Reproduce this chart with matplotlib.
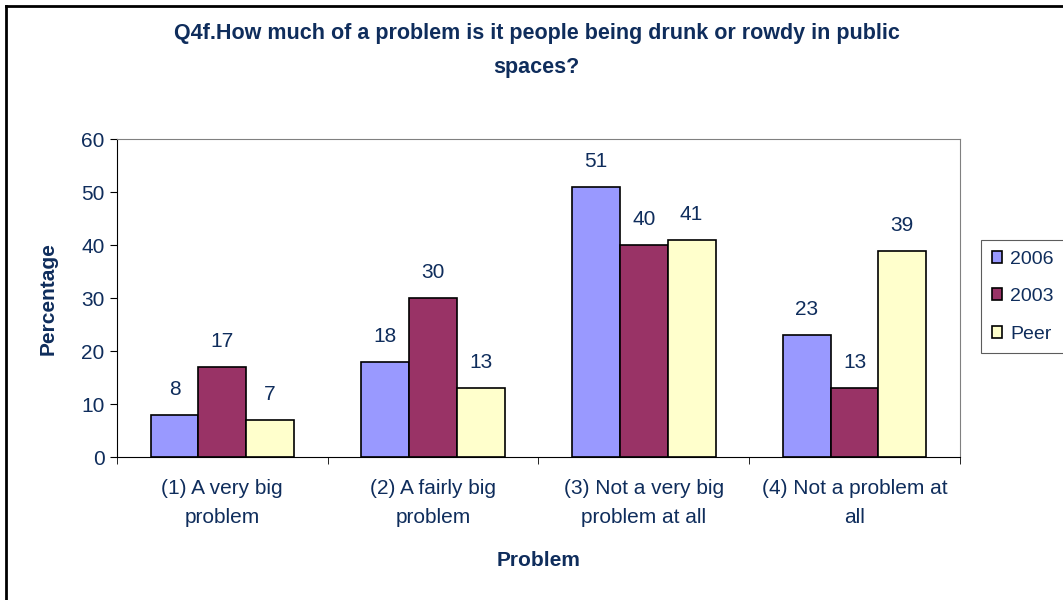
import matplotlib.pyplot as plt
import numpy as np
from matplotlib.lines import Line2D

categories = ["(1) A very big\nproblem", "(2) A fairly big\nproblem",
              "(3) Not a very big\nproblem at all", "(4) Not a problem at\nall"]
series_names = ["2006", "2003", "Peer"]
values_2006 = [8, 18, 51, 23]
values_2003 = [17, 30, 40, 13]
values_peer = [7, 13, 41, 39]

colors = ["#9999FF", "#993366", "#FFFFCC"]
navy = "#0F2D5C"
fs = 15
plt.rcParams['font.family'] = ['Liberation Sans', 'DejaVu Sans']

fig = plt.figure(figsize=(10.63, 6), dpi=100)
ax = fig.add_axes([0.110, 0.238, 0.793, 0.530])

x = np.arange(len(categories))
w = 0.227
for i, (name, vals) in enumerate(zip(series_names, [values_2006, values_2003, values_peer])):
    pos = x + (i - 1) * w
    ax.bar(pos, vals, w, color=colors[i], edgecolor="black", linewidth=1.2, label=name)
    for p, v in zip(pos, vals):
        ax.text(p, v + 3, str(v), ha="center", va="bottom", fontsize=fs, color=navy)

ax.set_xlim(-0.5, len(categories) - 0.5)
ax.set_ylim(0, 60)
ax.set_yticks(range(0, 61, 10))
ax.tick_params(axis="y", labelsize=fs, labelcolor=navy, direction="out", length=5, pad=4)
ax.set_xticks(x)
ax.set_xticklabels(categories, fontsize=fs, color=navy, linespacing=1.65)
ax.tick_params(axis="x", length=0, pad=16)
ax.set_xticks(np.arange(-0.5, len(categories)), minor=True)
ax.tick_params(axis="x", which="minor", direction="out", length=5)
for s in ["top", "right"]:
    ax.spines[s].set_color("#808080")
ax.set_ylabel("Percentage", fontsize=fs, fontweight="bold", color=navy, labelpad=17)
ax.set_xlabel("Problem", fontsize=fs, fontweight="bold", color=navy, labelpad=17)

fig.suptitle("Q4f.How much of a problem is it people being drunk or rowdy in public\nspaces?",
             x=0.505, y=0.962, fontsize=15.5, fontweight="bold", color=navy, linespacing=1.85)

leg = fig.legend(loc="upper left", bbox_to_anchor=(981 / 1063, 1 - 240 / 600), fontsize=14,
                 frameon=True, fancybox=False, edgecolor="#333333", handlelength=0.55,
                 handleheight=0.55, handletextpad=0.4, labelspacing=1.05, borderpad=0.55,
                 borderaxespad=0)
leg.get_frame().set_linewidth(0.8)
for t in leg.get_texts():
    t.set_color(navy)

# outer chart border: only the left and top edges fall inside the image
fig.add_artist(Line2D([0.0056, 0.0056], [0, 0.99], transform=fig.transFigure,
                      color="black", linewidth=2))
fig.add_artist(Line2D([0.0056, 1], [0.99, 0.99], transform=fig.transFigure,
                      color="black", linewidth=2))

fig.savefig("out.png", dpi=100)
